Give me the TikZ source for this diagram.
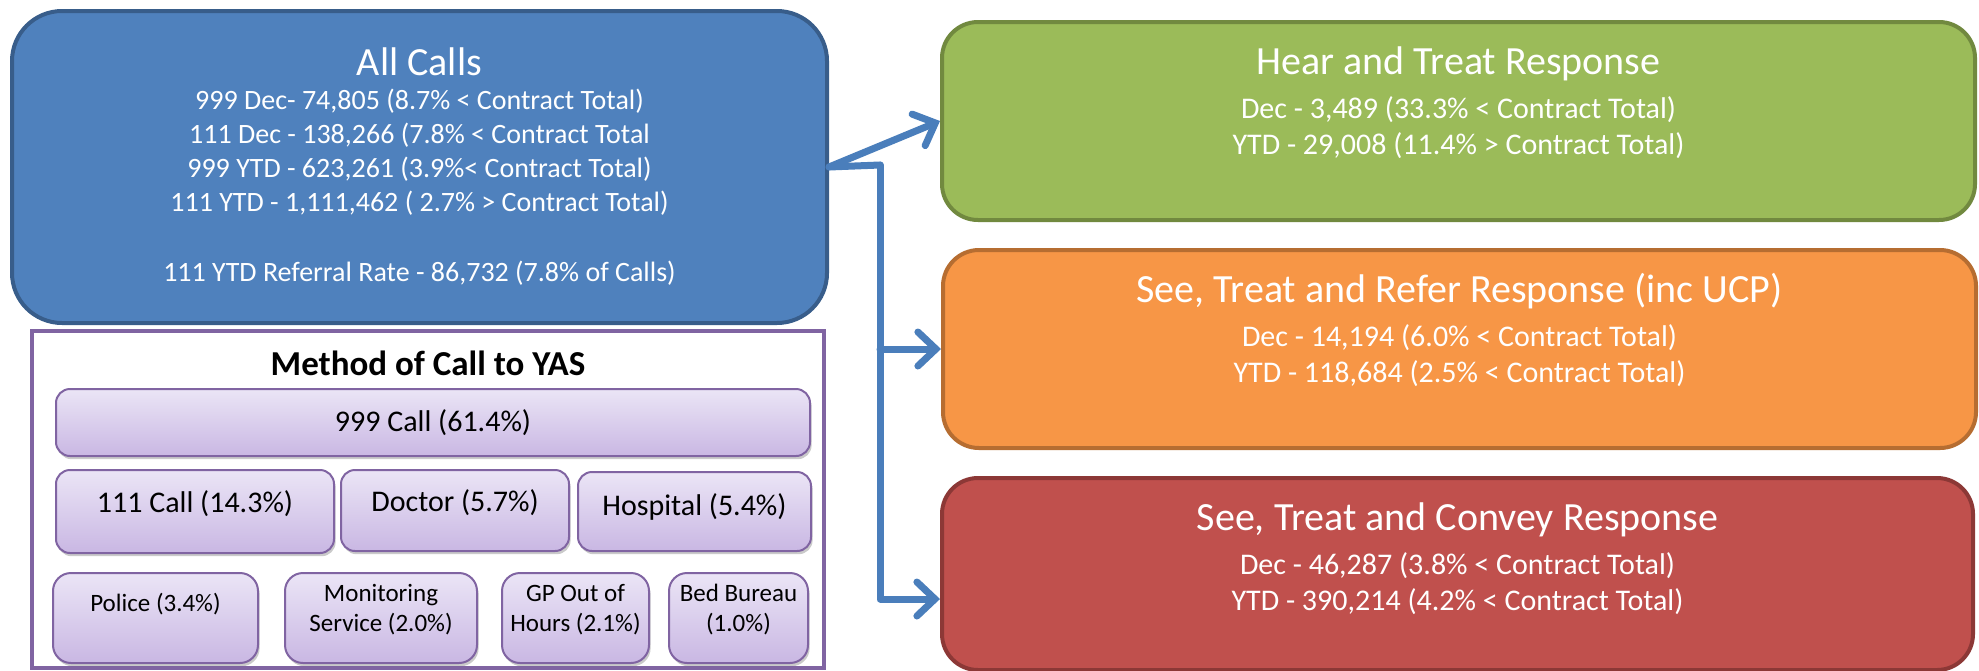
\documentclass[tikz,border=0pt]{standalone}
\usepackage{fontspec}
\setmainfont{Carlito}
\usetikzlibrary{arrows.meta,shadows,positioning}

\definecolor{callblue}{HTML}{4F81BD}
\definecolor{callblueline}{HTML}{385D8A}
\definecolor{hearfill}{HTML}{9BBB59}
\definecolor{hearline}{HTML}{71893F}
\definecolor{referfill}{HTML}{F79646}
\definecolor{referline}{HTML}{B66D31}
\definecolor{conveyfill}{HTML}{C0504D}
\definecolor{conveyline}{HTML}{8C3836}
\definecolor{methodline}{HTML}{8064A2}
\definecolor{lavtop}{HTML}{EBE5F6}
\definecolor{lavbot}{HTML}{C9B7E3}
\definecolor{flowblue}{HTML}{4A7EBB}

\newcommand{\titlesize}{\fontsize{20}{24}\selectfont}
\newcommand{\callsize}{\fontsize{14}{17}\selectfont}
\newcommand{\ressize}{\fontsize{15}{18}\selectfont}

\begin{document}
\begin{tikzpicture}[x=0.5pt, y=-0.5pt,
    bigbox/.style={draw, line width=2pt, rounded corners=18pt, anchor=north west,
      inner sep=0pt, text=white, align=center},
    restext/.style={text=white, align=center, font=\ressize},
    methodbox/.style={draw=methodline, line width=1pt, rounded corners=7pt,
      anchor=north west, inner sep=0pt, align=center, top color=lavtop,
      bottom color=lavbot,
      drop shadow={shadow xshift=0.8pt, shadow yshift=-1.6pt, opacity=0.35, fill=black!60}},
    smallbox/.style={methodbox, rounded corners=9pt, minimum height=45pt,
      font=\fontsize{12.5}{15}\selectfont, text depth=9.7pt},
    flow/.style={draw=flowblue, line width=3.5pt, line cap=round, line join=round},
    flowarrow/.style={flow, -{Straight Barb[length=9pt, width=17pt, line cap=round]}}]

    \useasboundingbox (0,0) rectangle (1979,670);

    % 1. Hop "All Calls" mau xanh
    \node[bigbox, fill=callblue, draw=callblueline, rounded corners=25pt,
      minimum width=407.5pt, minimum height=156pt, font=\callsize] (all) at (10,9)
      {{\titlesize All Calls}\\[0pt]
       999 Dec- 74,805 (8.7\% < Contract Total)\\
       111 Dec - 138,266 (7.8\% < Contract Total\\
       999 YTD - 623,261 (3.9\%< Contract Total)\\
       111 YTD - 1,111,462 ( 2.7\% > Contract Total)\\[18pt]
       111 YTD Referral Rate - 86,732 (7.8\% of Calls)};

    % 2. Khung "Method of Call to YAS"
    \draw[methodline, line width=1.6pt] (32,331) rectangle (824,668);
    \node[font=\fontsize{17.5}{21}\selectfont\bfseries] (method) at (428,363) {Method of Call to YAS};

    % Hang 1 va hang 2
    \node[methodbox, minimum width=377pt, minimum height=33.5pt, font=\ressize] (c999) at (55,388) {999 Call (61.4\%)};
    \node[methodbox, minimum width=139pt, minimum height=41.5pt, font=\ressize, text depth=9.6pt] (c111) at (55,469) {111 Call (14.3\%)};
    \node[methodbox, minimum width=114pt, minimum height=40.5pt, font=\ressize, text depth=9.6pt] (doctor) at (340,469) {Doctor (5.7\%)};
    \node[methodbox, minimum width=116.5pt, minimum height=39.5pt, font=\ressize, text depth=7pt] (hospital) at (577,471) {Hospital (5.4\%)};

    % Hang 3
    \node[smallbox, minimum width=102.5pt, text depth=15.5pt] (police) at (52,572) {Police (3.4\%)};
    \node[smallbox, minimum width=96pt] (monitor) at (284,572) {Monitoring\\Service (2.0\%)};
    \node[smallbox, minimum width=73.5pt] (gpooh) at (501,572) {GP Out of\\Hours (2.1\%)};
    \node[smallbox, minimum width=69.5pt] (bedb) at (668,572) {Bed Bureau\\(1.0\%)};

    % 3. Ba hop ket qua ben phai
    \node[bigbox, fill=hearfill, draw=hearline, minimum width=516.5pt, minimum height=99pt] (hear) at (940,20) {};
    \node[bigbox, fill=referfill, draw=referline, minimum width=516.5pt, minimum height=99pt] (refer) at (941,248) {};
    \node[bigbox, fill=conveyfill, draw=conveyline, minimum width=515.5pt, minimum height=96pt] (convey) at (940,476) {};

    \node[restext] (hear-t) at ([yshift=9pt]hear.center)
      {{\titlesize Hear and Treat Response}\\[4pt]
       Dec - 3,489 (33.3\% < Contract Total)\\
       YTD - 29,008 (11.4\% > Contract Total)};
    \node[restext] (refer-t) at ([yshift=9.5pt]refer.center)
      {{\titlesize See, Treat and Refer Response (inc UCP)}\\[4pt]
       Dec - 14,194 (6.0\% < Contract Total)\\
       YTD - 118,684 (2.5\% < Contract Total)};
    \node[restext] (convey-t) at ([yshift=7.5pt]convey.center)
      {{\titlesize See, Treat and Convey Response}\\[4pt]
       Dec - 46,287 (3.8\% < Contract Total)\\
       YTD - 390,214 (4.2\% < Contract Total)};

    % 4. Mui ten noi cac hop
    \coordinate (split) at (880,165);
    \draw[flowarrow] (all.east) -- (hear.west);
    \draw[flow] (all.east) -- (split);
    \draw[flowarrow] (split) |- ([yshift=-12.5pt]convey.west);
    \draw[flowarrow] (split |- refer.west) -- (refer.west);

\end{tikzpicture}
\end{document}
